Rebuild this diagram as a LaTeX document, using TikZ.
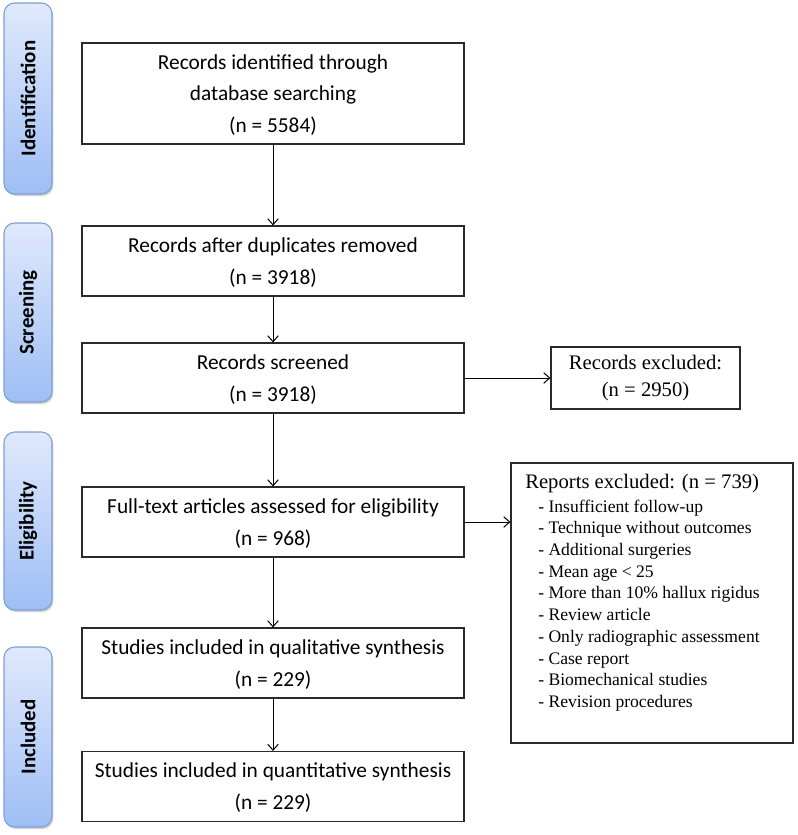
\documentclass[tikz,border=0pt]{standalone}
\usepackage{fontspec}
\usepackage{graphicx}
\setmainfont{Liberation Serif}
\newfontfamily\calibri{Carlito}
\usetikzlibrary{arrows.meta,shadows}
\definecolor{lbltop}{HTML}{E0E9FC}
\definecolor{lblbot}{HTML}{9EBEF5}
\definecolor{lbledge}{HTML}{7E9ED2}
\definecolor{boxedge}{HTML}{2A2A2A}
\begin{document}
\begin{tikzpicture}[x=0.75pt,y=-0.75pt,
  stage/.style={draw=lbledge, line width=0.8pt, rounded corners=8pt,
    top color=lbltop, bottom color=lblbot, minimum width=36pt, inner sep=0pt,
    drop shadow={shadow xshift=1pt, shadow yshift=-1.5pt, opacity=0.35},
    font=\calibri\bfseries\fontsize{15.7}{18}\selectfont},
  mainbox/.style={draw=boxedge, line width=0.9pt, minimum width=286.5pt, minimum height=52.5pt,
    inner sep=0pt, align=center, text depth=0pt, font=\calibri\fontsize{16}{24}\selectfont},
  exbox/.style={draw=boxedge, line width=0.9pt, inner sep=0pt},
  flow/.style={draw=black, line width=0.75pt, -{Straight Barb[length=4.5pt,width=8pt]}}
]
\path[use as bounding box] (0,0) rectangle (797,835);

% stage labels
\node[stage, minimum height=143.25pt] (sid) at (28,98.5) {\rotatebox{90}{Identification}};
\node[stage, minimum height=134.25pt] (ssc) at (28,312.5) {\rotatebox{90}{Screening}};
\node[stage, minimum height=133.5pt] (sel) at (28,521) {\rotatebox{90}{Eligibility}};
\node[stage, minimum height=135pt] (sin) at (28,737) {\rotatebox{90}{Included}};

% main boxes
\node[mainbox, minimum height=75.75pt, font=\calibri\fontsize{16}{23.5}\selectfont] (b1) at (273,93.5)
  {Records identified through\\database searching\\(n = 5584)};
\node[mainbox] (b2) at (273,261) {Records after duplicates removed\\(n = 3918)};
\node[mainbox] (b3) at (273,378) {Records screened\\(n = 3918)};
\node[mainbox] (b4) at (273,522) {Full-text articles assessed for eligibility\\(n = 968)};
\node[mainbox] (b5) at (273,663) {Studies included in qualitative synthesis\\(n = 229)};
\node[mainbox] (b6) at (273,786.5) {Studies included in quantitative synthesis\\(n = 229)};

% exclusion boxes
\node[exbox, minimum width=141.75pt, minimum height=46.5pt, align=center,
  font=\fontsize{15.5}{20}\selectfont] (rex) at (645.5,378) {Records excluded:\\(n = 2950)};
\node[exbox, minimum width=211.5pt, minimum height=210pt] (rep) at (652,603) {};
\node[anchor=base west, inner sep=0pt, font=\fontsize{15.5}{19}\selectfont] (rephead) at (525,488)
  {Reports excluded: (n = 739)};
\node[anchor=base west, inner sep=0pt] (replist) at (538,512)
  {\parbox[t]{200pt}{\fontsize{13.2}{16.3}\selectfont
   - Insufficient follow-up\\
   - Technique without outcomes\\
   - Additional surgeries\\
   - Mean age < 25\\
   - More than 10\% hallux rigidus\\
   - Review article\\
   - Only radiographic assessment\\
   - Case report\\
   - Biomechanical studies\\
   - Revision procedures}};

% connectors
\draw[flow] (b1) -- (b2);
\draw[flow] (b2) -- (b3);
\draw[flow] (b3) -- (b4);
\draw[flow] (b4) -- (b5);
\draw[flow] (b5) -- (b6);
\draw[flow] (b3.east) -- (rex.west);
\draw[flow] (b4.east) -- (b4.east -| rep.west);
\end{tikzpicture}
\end{document}
